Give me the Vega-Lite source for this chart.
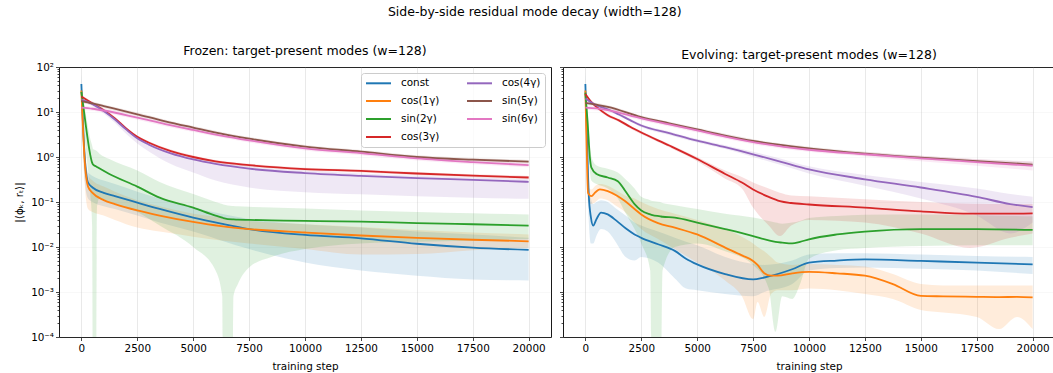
{
  "$schema": "https://vega.github.io/schema/vega-lite/v6.json",
  "padding": {"left": 14, "top": 5, "right": 0, "bottom": 0},
  "title": {"text": "Side-by-side residual mode decay (width=128)", "anchor": "middle", "offset": 26},
  "config": {
    "font": "DejaVu Sans",
    "view": {"stroke": "#1a1a1a", "strokeWidth": 1},
    "axis": {
      "domain": false,
      "labelFont": "DejaVu Sans", "labelFontSize": 10.4, "labelColor": "#000000",
      "titleFont": "DejaVu Sans", "titleFontSize": 10.4, "titleFontWeight": "normal", "titleColor": "#000000",
      "tickColor": "#1a1a1a", "tickWidth": 0.8,
      "gridColor": "#b0b0b0", "gridOpacity": 0.35, "gridWidth": 0.8,
      "labelPadding": 2
    },
    "title": {"font": "DejaVu Sans", "fontSize": 12.5, "fontWeight": "normal", "color": "#000000"}
  },
  "datasets": {
    "curves": [
      {"p":"Frozen","m":"const","s":0,"v":42,"lo":20,"hi":70},
      {"p":"Frozen","m":"const","s":150,"v":1.0,"lo":0.3,"hi":2.0},
      {"p":"Frozen","m":"const","s":300,"v":0.27,"lo":0.12,"hi":0.45},
      {"p":"Frozen","m":"const","s":500,"v":0.21,"lo":0.1,"hi":0.38},
      {"p":"Frozen","m":"const","s":1000,"v":0.16,"lo":0.08,"hi":0.3},
      {"p":"Frozen","m":"const","s":1500,"v":0.135,"lo":0.07,"hi":0.25},
      {"p":"Frozen","m":"const","s":2500,"v":0.097,"lo":0.05,"hi":0.17},
      {"p":"Frozen","m":"const","s":3500,"v":0.07,"lo":0.035,"hi":0.12},
      {"p":"Frozen","m":"const","s":5000,"v":0.045,"lo":0.022,"hi":0.075},
      {"p":"Frozen","m":"const","s":6250,"v":0.033,"lo":0.014,"hi":0.055},
      {"p":"Frozen","m":"const","s":7500,"v":0.025,"lo":0.009,"hi":0.042},
      {"p":"Frozen","m":"const","s":10000,"v":0.0185,"lo":0.0045,"hi":0.032},
      {"p":"Frozen","m":"const","s":12500,"v":0.0156,"lo":0.003,"hi":0.027},
      {"p":"Frozen","m":"const","s":15000,"v":0.0118,"lo":0.0023,"hi":0.022},
      {"p":"Frozen","m":"const","s":17500,"v":0.0097,"lo":0.0019,"hi":0.019},
      {"p":"Frozen","m":"const","s":20000,"v":0.0086,"lo":0.0018,"hi":0.016},

      {"p":"Frozen","m":"cos(1γ)","s":0,"v":30,"lo":15,"hi":45},
      {"p":"Frozen","m":"cos(1γ)","s":150,"v":0.8,"lo":0.25,"hi":2.0},
      {"p":"Frozen","m":"cos(1γ)","s":300,"v":0.22,"lo":0.07,"hi":0.4},
      {"p":"Frozen","m":"cos(1γ)","s":500,"v":0.16,"lo":0.06,"hi":0.3},
      {"p":"Frozen","m":"cos(1γ)","s":1000,"v":0.11,"lo":0.05,"hi":0.22},
      {"p":"Frozen","m":"cos(1γ)","s":1500,"v":0.09,"lo":0.04,"hi":0.17},
      {"p":"Frozen","m":"cos(1γ)","s":2500,"v":0.065,"lo":0.027,"hi":0.11},
      {"p":"Frozen","m":"cos(1γ)","s":3500,"v":0.05,"lo":0.022,"hi":0.08},
      {"p":"Frozen","m":"cos(1γ)","s":5000,"v":0.036,"lo":0.017,"hi":0.055},
      {"p":"Frozen","m":"cos(1γ)","s":6250,"v":0.029,"lo":0.014,"hi":0.045},
      {"p":"Frozen","m":"cos(1γ)","s":7500,"v":0.025,"lo":0.012,"hi":0.038},
      {"p":"Frozen","m":"cos(1γ)","s":10000,"v":0.021,"lo":0.009,"hi":0.032},
      {"p":"Frozen","m":"cos(1γ)","s":12500,"v":0.018,"lo":0.0068,"hi":0.028},
      {"p":"Frozen","m":"cos(1γ)","s":15000,"v":0.016,"lo":0.007,"hi":0.024},
      {"p":"Frozen","m":"cos(1γ)","s":17500,"v":0.0145,"lo":0.0085,"hi":0.021},
      {"p":"Frozen","m":"cos(1γ)","s":20000,"v":0.0134,"lo":0.0095,"hi":0.019},

      {"p":"Frozen","m":"sin(2γ)","s":0,"v":28,"lo":15,"hi":40},
      {"p":"Frozen","m":"sin(2γ)","s":100,"v":12,"lo":5,"hi":20},
      {"p":"Frozen","m":"sin(2γ)","s":200,"v":5,"lo":1.5,"hi":9},
      {"p":"Frozen","m":"sin(2γ)","s":300,"v":2.2,"lo":0.5,"hi":4.5},
      {"p":"Frozen","m":"sin(2γ)","s":400,"v":1.1,"lo":0.15,"hi":2.5},
      {"p":"Frozen","m":"sin(2γ)","s":480,"v":0.75,"lo":0.03,"hi":1.8},
      {"p":"Frozen","m":"sin(2γ)","s":520,"v":0.68,"lo":0.000001,"hi":1.5},
      {"p":"Frozen","m":"sin(2γ)","s":650,"v":0.62,"lo":0.000001,"hi":1.4},
      {"p":"Frozen","m":"sin(2γ)","s":700,"v":0.6,"lo":0.08,"hi":1.35},
      {"p":"Frozen","m":"sin(2γ)","s":800,"v":0.56,"lo":0.12,"hi":1.2},
      {"p":"Frozen","m":"sin(2γ)","s":1250,"v":0.42,"lo":0.1,"hi":0.9},
      {"p":"Frozen","m":"sin(2γ)","s":2500,"v":0.22,"lo":0.06,"hi":0.5},
      {"p":"Frozen","m":"sin(2γ)","s":3500,"v":0.125,"lo":0.03,"hi":0.28},
      {"p":"Frozen","m":"sin(2γ)","s":5000,"v":0.075,"lo":0.01,"hi":0.15},
      {"p":"Frozen","m":"sin(2γ)","s":6000,"v":0.05,"lo":0.003,"hi":0.1},
      {"p":"Frozen","m":"sin(2γ)","s":6300,"v":0.045,"lo":0.0008,"hi":0.09},
      {"p":"Frozen","m":"sin(2γ)","s":6350,"v":0.044,"lo":0.000001,"hi":0.088},
      {"p":"Frozen","m":"sin(2γ)","s":6750,"v":0.041,"lo":0.000001,"hi":0.082},
      {"p":"Frozen","m":"sin(2γ)","s":6800,"v":0.041,"lo":0.0008,"hi":0.082},
      {"p":"Frozen","m":"sin(2γ)","s":7000,"v":0.0405,"lo":0.0015,"hi":0.08},
      {"p":"Frozen","m":"sin(2γ)","s":7500,"v":0.04,"lo":0.0035,"hi":0.078},
      {"p":"Frozen","m":"sin(2γ)","s":8500,"v":0.039,"lo":0.006,"hi":0.075},
      {"p":"Frozen","m":"sin(2γ)","s":10000,"v":0.038,"lo":0.009,"hi":0.072},
      {"p":"Frozen","m":"sin(2γ)","s":12500,"v":0.0365,"lo":0.012,"hi":0.065},
      {"p":"Frozen","m":"sin(2γ)","s":15000,"v":0.034,"lo":0.013,"hi":0.06},
      {"p":"Frozen","m":"sin(2γ)","s":17500,"v":0.032,"lo":0.014,"hi":0.056},
      {"p":"Frozen","m":"sin(2γ)","s":20000,"v":0.03,"lo":0.015,"hi":0.053},

      {"p":"Frozen","m":"cos(3γ)","s":0,"v":22,"lo":20.2,"hi":23.8},
      {"p":"Frozen","m":"cos(3γ)","s":250,"v":18.5,"lo":17,"hi":20},
      {"p":"Frozen","m":"cos(3γ)","s":500,"v":15.5,"lo":14.3,"hi":16.7},
      {"p":"Frozen","m":"cos(3γ)","s":1000,"v":11,"lo":10.1,"hi":11.9},
      {"p":"Frozen","m":"cos(3γ)","s":1500,"v":7.2,"lo":6.6,"hi":7.8},
      {"p":"Frozen","m":"cos(3γ)","s":2000,"v":4.3,"lo":3.95,"hi":4.65},
      {"p":"Frozen","m":"cos(3γ)","s":2500,"v":2.8,"lo":2.58,"hi":3.02},
      {"p":"Frozen","m":"cos(3γ)","s":3000,"v":2.1,"lo":1.93,"hi":2.27},
      {"p":"Frozen","m":"cos(3γ)","s":4000,"v":1.35,"lo":1.24,"hi":1.46},
      {"p":"Frozen","m":"cos(3γ)","s":5000,"v":1.0,"lo":0.92,"hi":1.08},
      {"p":"Frozen","m":"cos(3γ)","s":6000,"v":0.8,"lo":0.74,"hi":0.86},
      {"p":"Frozen","m":"cos(3γ)","s":7500,"v":0.66,"lo":0.61,"hi":0.71},
      {"p":"Frozen","m":"cos(3γ)","s":10000,"v":0.54,"lo":0.5,"hi":0.58},
      {"p":"Frozen","m":"cos(3γ)","s":12500,"v":0.49,"lo":0.45,"hi":0.53},
      {"p":"Frozen","m":"cos(3γ)","s":15000,"v":0.43,"lo":0.395,"hi":0.465},
      {"p":"Frozen","m":"cos(3γ)","s":17500,"v":0.385,"lo":0.355,"hi":0.415},
      {"p":"Frozen","m":"cos(3γ)","s":20000,"v":0.35,"lo":0.32,"hi":0.38},

      {"p":"Frozen","m":"cos(4γ)","s":0,"v":19,"lo":16.5,"hi":21.3},
      {"p":"Frozen","m":"cos(4γ)","s":250,"v":17,"lo":15.2,"hi":19},
      {"p":"Frozen","m":"cos(4γ)","s":500,"v":15,"lo":13.5,"hi":16.8},
      {"p":"Frozen","m":"cos(4γ)","s":1000,"v":10.5,"lo":9.3,"hi":11.8},
      {"p":"Frozen","m":"cos(4γ)","s":1500,"v":6.8,"lo":5.8,"hi":7.6},
      {"p":"Frozen","m":"cos(4γ)","s":2000,"v":4.1,"lo":3.3,"hi":4.6},
      {"p":"Frozen","m":"cos(4γ)","s":2500,"v":2.6,"lo":2.0,"hi":2.9},
      {"p":"Frozen","m":"cos(4γ)","s":3000,"v":1.9,"lo":1.35,"hi":2.13},
      {"p":"Frozen","m":"cos(4γ)","s":4000,"v":1.2,"lo":0.7,"hi":1.34},
      {"p":"Frozen","m":"cos(4γ)","s":5000,"v":0.88,"lo":0.45,"hi":0.99},
      {"p":"Frozen","m":"cos(4γ)","s":6000,"v":0.7,"lo":0.3,"hi":0.79},
      {"p":"Frozen","m":"cos(4γ)","s":7500,"v":0.55,"lo":0.21,"hi":0.62},
      {"p":"Frozen","m":"cos(4γ)","s":10000,"v":0.44,"lo":0.165,"hi":0.5},
      {"p":"Frozen","m":"cos(4γ)","s":12500,"v":0.38,"lo":0.148,"hi":0.43},
      {"p":"Frozen","m":"cos(4γ)","s":15000,"v":0.34,"lo":0.135,"hi":0.385},
      {"p":"Frozen","m":"cos(4γ)","s":17500,"v":0.31,"lo":0.125,"hi":0.35},
      {"p":"Frozen","m":"cos(4γ)","s":20000,"v":0.28,"lo":0.118,"hi":0.32},

      {"p":"Frozen","m":"sin(5γ)","s":0,"v":17.5,"lo":16,"hi":19},
      {"p":"Frozen","m":"sin(5γ)","s":500,"v":15.5,"lo":14.1,"hi":16.9},
      {"p":"Frozen","m":"sin(5γ)","s":1000,"v":13.5,"lo":12.3,"hi":14.7},
      {"p":"Frozen","m":"sin(5γ)","s":2500,"v":8.9,"lo":8.1,"hi":9.7},
      {"p":"Frozen","m":"sin(5γ)","s":3750,"v":6.2,"lo":5.65,"hi":6.75},
      {"p":"Frozen","m":"sin(5γ)","s":5000,"v":4.5,"lo":4.1,"hi":4.9},
      {"p":"Frozen","m":"sin(5γ)","s":6250,"v":3.3,"lo":3.0,"hi":3.6},
      {"p":"Frozen","m":"sin(5γ)","s":7500,"v":2.55,"lo":2.32,"hi":2.78},
      {"p":"Frozen","m":"sin(5γ)","s":10000,"v":1.7,"lo":1.55,"hi":1.85},
      {"p":"Frozen","m":"sin(5γ)","s":12500,"v":1.31,"lo":1.19,"hi":1.43},
      {"p":"Frozen","m":"sin(5γ)","s":15000,"v":1.0,"lo":0.91,"hi":1.09},
      {"p":"Frozen","m":"sin(5γ)","s":17500,"v":0.87,"lo":0.79,"hi":0.95},
      {"p":"Frozen","m":"sin(5γ)","s":20000,"v":0.79,"lo":0.72,"hi":0.86},

      {"p":"Frozen","m":"sin(6γ)","s":0,"v":12.5,"lo":11.2,"hi":13.8},
      {"p":"Frozen","m":"sin(6γ)","s":500,"v":11.8,"lo":10.6,"hi":13},
      {"p":"Frozen","m":"sin(6γ)","s":1000,"v":10.8,"lo":9.7,"hi":11.9},
      {"p":"Frozen","m":"sin(6γ)","s":2500,"v":7.5,"lo":6.7,"hi":8.3},
      {"p":"Frozen","m":"sin(6γ)","s":3750,"v":5.4,"lo":4.85,"hi":5.95},
      {"p":"Frozen","m":"sin(6γ)","s":5000,"v":4.0,"lo":3.6,"hi":4.4},
      {"p":"Frozen","m":"sin(6γ)","s":6250,"v":3.0,"lo":2.7,"hi":3.3},
      {"p":"Frozen","m":"sin(6γ)","s":7500,"v":2.35,"lo":2.1,"hi":2.6},
      {"p":"Frozen","m":"sin(6γ)","s":10000,"v":1.55,"lo":1.4,"hi":1.7},
      {"p":"Frozen","m":"sin(6γ)","s":12500,"v":1.22,"lo":1.1,"hi":1.34},
      {"p":"Frozen","m":"sin(6γ)","s":15000,"v":0.93,"lo":0.84,"hi":1.02},
      {"p":"Frozen","m":"sin(6γ)","s":17500,"v":0.77,"lo":0.69,"hi":0.85},
      {"p":"Frozen","m":"sin(6γ)","s":20000,"v":0.66,"lo":0.59,"hi":0.73},

      {"p":"Evolving","m":"const","s":0,"v":42,"lo":20,"hi":75},
      {"p":"Evolving","m":"const","s":80,"v":2,"lo":0.8,"hi":5},
      {"p":"Evolving","m":"const","s":150,"v":0.15,"lo":0.04,"hi":0.4},
      {"p":"Evolving","m":"const","s":250,"v":0.045,"lo":0.012,"hi":0.12},
      {"p":"Evolving","m":"const","s":350,"v":0.03,"lo":0.012,"hi":0.09},
      {"p":"Evolving","m":"const","s":500,"v":0.042,"lo":0.018,"hi":0.1},
      {"p":"Evolving","m":"const","s":700,"v":0.058,"lo":0.025,"hi":0.11},
      {"p":"Evolving","m":"const","s":1000,"v":0.053,"lo":0.022,"hi":0.1},
      {"p":"Evolving","m":"const","s":1400,"v":0.038,"lo":0.012,"hi":0.07},
      {"p":"Evolving","m":"const","s":1800,"v":0.026,"lo":0.006,"hi":0.05},
      {"p":"Evolving","m":"const","s":2200,"v":0.019,"lo":0.005,"hi":0.035},
      {"p":"Evolving","m":"const","s":2500,"v":0.016,"lo":0.006,"hi":0.03},
      {"p":"Evolving","m":"const","s":3250,"v":0.0115,"lo":0.0045,"hi":0.022},
      {"p":"Evolving","m":"const","s":4000,"v":0.0082,"lo":0.002,"hi":0.016},
      {"p":"Evolving","m":"const","s":4500,"v":0.0055,"lo":0.0012,"hi":0.013},
      {"p":"Evolving","m":"const","s":5000,"v":0.0041,"lo":0.0011,"hi":0.011},
      {"p":"Evolving","m":"const","s":6250,"v":0.0025,"lo":0.0009,"hi":0.006},
      {"p":"Evolving","m":"const","s":7500,"v":0.0019,"lo":0.0008,"hi":0.0042},
      {"p":"Evolving","m":"const","s":8000,"v":0.0021,"lo":0.001,"hi":0.004},
      {"p":"Evolving","m":"const","s":9250,"v":0.0032,"lo":0.0015,"hi":0.005},
      {"p":"Evolving","m":"const","s":10000,"v":0.0045,"lo":0.003,"hi":0.0068},
      {"p":"Evolving","m":"const","s":11250,"v":0.005,"lo":0.0034,"hi":0.0073},
      {"p":"Evolving","m":"const","s":12500,"v":0.0053,"lo":0.0035,"hi":0.0073},
      {"p":"Evolving","m":"const","s":15000,"v":0.0049,"lo":0.0033,"hi":0.0068},
      {"p":"Evolving","m":"const","s":17500,"v":0.0045,"lo":0.003,"hi":0.0063},
      {"p":"Evolving","m":"const","s":20000,"v":0.0041,"lo":0.0025,"hi":0.006},

      {"p":"Evolving","m":"cos(1γ)","s":0,"v":30,"lo":15,"hi":45},
      {"p":"Evolving","m":"cos(1γ)","s":60,"v":1.5,"lo":0.5,"hi":3},
      {"p":"Evolving","m":"cos(1γ)","s":120,"v":0.16,"lo":0.1,"hi":0.22},
      {"p":"Evolving","m":"cos(1γ)","s":270,"v":0.135,"lo":0.09,"hi":0.19},
      {"p":"Evolving","m":"cos(1γ)","s":450,"v":0.165,"lo":0.1,"hi":0.23},
      {"p":"Evolving","m":"cos(1γ)","s":650,"v":0.19,"lo":0.12,"hi":0.25},
      {"p":"Evolving","m":"cos(1γ)","s":1000,"v":0.175,"lo":0.11,"hi":0.23},
      {"p":"Evolving","m":"cos(1γ)","s":1400,"v":0.14,"lo":0.08,"hi":0.18},
      {"p":"Evolving","m":"cos(1γ)","s":1770,"v":0.105,"lo":0.06,"hi":0.14},
      {"p":"Evolving","m":"cos(1γ)","s":2200,"v":0.07,"lo":0.035,"hi":0.12},
      {"p":"Evolving","m":"cos(1γ)","s":2500,"v":0.053,"lo":0.025,"hi":0.1},
      {"p":"Evolving","m":"cos(1γ)","s":3250,"v":0.034,"lo":0.015,"hi":0.07},
      {"p":"Evolving","m":"cos(1γ)","s":4000,"v":0.027,"lo":0.009,"hi":0.055},
      {"p":"Evolving","m":"cos(1γ)","s":5000,"v":0.019,"lo":0.0045,"hi":0.04},
      {"p":"Evolving","m":"cos(1γ)","s":6250,"v":0.0097,"lo":0.0018,"hi":0.025},
      {"p":"Evolving","m":"cos(1γ)","s":7000,"v":0.0065,"lo":0.0008,"hi":0.017},
      {"p":"Evolving","m":"cos(1γ)","s":7500,"v":0.0049,"lo":0.00025,"hi":0.012},
      {"p":"Evolving","m":"cos(1γ)","s":7700,"v":0.004,"lo":0.0006,"hi":0.01},
      {"p":"Evolving","m":"cos(1γ)","s":8000,"v":0.0026,"lo":0.00028,"hi":0.008},
      {"p":"Evolving","m":"cos(1γ)","s":8300,"v":0.0023,"lo":0.0009,"hi":0.006},
      {"p":"Evolving","m":"cos(1γ)","s":8600,"v":0.0023,"lo":0.0011,"hi":0.0045},
      {"p":"Evolving","m":"cos(1γ)","s":9250,"v":0.0026,"lo":0.0011,"hi":0.004},
      {"p":"Evolving","m":"cos(1γ)","s":10000,"v":0.0028,"lo":0.0012,"hi":0.0042},
      {"p":"Evolving","m":"cos(1γ)","s":11250,"v":0.0026,"lo":0.0011,"hi":0.004},
      {"p":"Evolving","m":"cos(1γ)","s":12500,"v":0.0023,"lo":0.0009,"hi":0.0037},
      {"p":"Evolving","m":"cos(1γ)","s":13750,"v":0.0015,"lo":0.0007,"hi":0.0025},
      {"p":"Evolving","m":"cos(1γ)","s":15000,"v":0.00082,"lo":0.0004,"hi":0.0015},
      {"p":"Evolving","m":"cos(1γ)","s":16000,"v":0.0008,"lo":0.00035,"hi":0.0014},
      {"p":"Evolving","m":"cos(1γ)","s":17500,"v":0.00078,"lo":0.00028,"hi":0.0014},
      {"p":"Evolving","m":"cos(1γ)","s":18500,"v":0.00077,"lo":0.00015,"hi":0.0014},
      {"p":"Evolving","m":"cos(1γ)","s":19300,"v":0.00078,"lo":0.00028,"hi":0.0014},
      {"p":"Evolving","m":"cos(1γ)","s":20000,"v":0.00076,"lo":0.00015,"hi":0.0014},

      {"p":"Evolving","m":"sin(2γ)","s":0,"v":27,"lo":15,"hi":40},
      {"p":"Evolving","m":"sin(2γ)","s":100,"v":6,"lo":3,"hi":10},
      {"p":"Evolving","m":"sin(2γ)","s":200,"v":1.0,"lo":0.5,"hi":2},
      {"p":"Evolving","m":"sin(2γ)","s":270,"v":0.58,"lo":0.3,"hi":1.0},
      {"p":"Evolving","m":"sin(2γ)","s":500,"v":0.42,"lo":0.25,"hi":0.65},
      {"p":"Evolving","m":"sin(2γ)","s":1000,"v":0.35,"lo":0.2,"hi":0.55},
      {"p":"Evolving","m":"sin(2γ)","s":1450,"v":0.29,"lo":0.12,"hi":0.45},
      {"p":"Evolving","m":"sin(2γ)","s":1770,"v":0.18,"lo":0.06,"hi":0.33},
      {"p":"Evolving","m":"sin(2γ)","s":2200,"v":0.09,"lo":0.025,"hi":0.2},
      {"p":"Evolving","m":"sin(2γ)","s":2500,"v":0.065,"lo":0.012,"hi":0.13},
      {"p":"Evolving","m":"sin(2γ)","s":2900,"v":0.053,"lo":0.003,"hi":0.11},
      {"p":"Evolving","m":"sin(2γ)","s":3000,"v":0.051,"lo":0.000001,"hi":0.105},
      {"p":"Evolving","m":"sin(2γ)","s":3350,"v":0.048,"lo":0.000001,"hi":0.1},
      {"p":"Evolving","m":"sin(2γ)","s":3450,"v":0.047,"lo":0.003,"hi":0.095},
      {"p":"Evolving","m":"sin(2γ)","s":4000,"v":0.045,"lo":0.01,"hi":0.085},
      {"p":"Evolving","m":"sin(2γ)","s":5000,"v":0.035,"lo":0.012,"hi":0.07},
      {"p":"Evolving","m":"sin(2γ)","s":6250,"v":0.025,"lo":0.008,"hi":0.055},
      {"p":"Evolving","m":"sin(2γ)","s":7500,"v":0.0175,"lo":0.004,"hi":0.045},
      {"p":"Evolving","m":"sin(2γ)","s":8200,"v":0.014,"lo":0.0012,"hi":0.038},
      {"p":"Evolving","m":"sin(2γ)","s":8500,"v":0.013,"lo":0.00013,"hi":0.035},
      {"p":"Evolving","m":"sin(2γ)","s":8800,"v":0.0125,"lo":0.0008,"hi":0.033},
      {"p":"Evolving","m":"sin(2γ)","s":9250,"v":0.012,"lo":0.0007,"hi":0.035},
      {"p":"Evolving","m":"sin(2γ)","s":9600,"v":0.013,"lo":0.0015,"hi":0.038},
      {"p":"Evolving","m":"sin(2γ)","s":10000,"v":0.0148,"lo":0.0055,"hi":0.044},
      {"p":"Evolving","m":"sin(2γ)","s":11250,"v":0.019,"lo":0.0085,"hi":0.049},
      {"p":"Evolving","m":"sin(2γ)","s":12500,"v":0.022,"lo":0.0095,"hi":0.052},
      {"p":"Evolving","m":"sin(2γ)","s":15000,"v":0.025,"lo":0.0105,"hi":0.053},
      {"p":"Evolving","m":"sin(2γ)","s":17500,"v":0.025,"lo":0.011,"hi":0.051},
      {"p":"Evolving","m":"sin(2γ)","s":20000,"v":0.024,"lo":0.011,"hi":0.048},

      {"p":"Evolving","m":"cos(3γ)","s":0,"v":25,"lo":22,"hi":28},
      {"p":"Evolving","m":"cos(3γ)","s":250,"v":17,"lo":15.6,"hi":18.4},
      {"p":"Evolving","m":"cos(3γ)","s":500,"v":13,"lo":12,"hi":14},
      {"p":"Evolving","m":"cos(3γ)","s":1000,"v":8.5,"lo":7.8,"hi":9.2},
      {"p":"Evolving","m":"cos(3γ)","s":1500,"v":6.5,"lo":6,"hi":7},
      {"p":"Evolving","m":"cos(3γ)","s":2000,"v":4.7,"lo":4.3,"hi":5.1},
      {"p":"Evolving","m":"cos(3γ)","s":2500,"v":3.5,"lo":3.2,"hi":3.8},
      {"p":"Evolving","m":"cos(3γ)","s":3750,"v":1.8,"lo":1.65,"hi":1.95},
      {"p":"Evolving","m":"cos(3γ)","s":5000,"v":0.9,"lo":0.8,"hi":1.0},
      {"p":"Evolving","m":"cos(3γ)","s":6250,"v":0.42,"lo":0.33,"hi":0.5},
      {"p":"Evolving","m":"cos(3γ)","s":7000,"v":0.27,"lo":0.2,"hi":0.36},
      {"p":"Evolving","m":"cos(3γ)","s":7500,"v":0.19,"lo":0.075,"hi":0.27},
      {"p":"Evolving","m":"cos(3γ)","s":8200,"v":0.13,"lo":0.03,"hi":0.2},
      {"p":"Evolving","m":"cos(3γ)","s":8700,"v":0.105,"lo":0.0175,"hi":0.16},
      {"p":"Evolving","m":"cos(3γ)","s":9200,"v":0.095,"lo":0.03,"hi":0.14},
      {"p":"Evolving","m":"cos(3γ)","s":10000,"v":0.088,"lo":0.04,"hi":0.135},
      {"p":"Evolving","m":"cos(3γ)","s":12500,"v":0.075,"lo":0.035,"hi":0.115},
      {"p":"Evolving","m":"cos(3γ)","s":15000,"v":0.062,"lo":0.02,"hi":0.1},
      {"p":"Evolving","m":"cos(3γ)","s":17200,"v":0.055,"lo":0.0095,"hi":0.092},
      {"p":"Evolving","m":"cos(3γ)","s":19000,"v":0.055,"lo":0.016,"hi":0.09},
      {"p":"Evolving","m":"cos(3γ)","s":20000,"v":0.056,"lo":0.02,"hi":0.09},

      {"p":"Evolving","m":"cos(4γ)","s":0,"v":20,"lo":18,"hi":22},
      {"p":"Evolving","m":"cos(4γ)","s":500,"v":14,"lo":13,"hi":15},
      {"p":"Evolving","m":"cos(4γ)","s":1000,"v":11.5,"lo":10.7,"hi":12.3},
      {"p":"Evolving","m":"cos(4γ)","s":1500,"v":8.8,"lo":8.2,"hi":9.4},
      {"p":"Evolving","m":"cos(4γ)","s":2000,"v":6.6,"lo":6.1,"hi":7.1},
      {"p":"Evolving","m":"cos(4γ)","s":2500,"v":5.0,"lo":4.6,"hi":5.4},
      {"p":"Evolving","m":"cos(4γ)","s":3750,"v":3.4,"lo":3.1,"hi":3.7},
      {"p":"Evolving","m":"cos(4γ)","s":5000,"v":2.3,"lo":2.1,"hi":2.5},
      {"p":"Evolving","m":"cos(4γ)","s":6250,"v":1.65,"lo":1.5,"hi":1.82},
      {"p":"Evolving","m":"cos(4γ)","s":7500,"v":1.15,"lo":1.0,"hi":1.3},
      {"p":"Evolving","m":"cos(4γ)","s":8750,"v":0.78,"lo":0.66,"hi":0.92},
      {"p":"Evolving","m":"cos(4γ)","s":10000,"v":0.53,"lo":0.43,"hi":0.62},
      {"p":"Evolving","m":"cos(4γ)","s":12500,"v":0.32,"lo":0.23,"hi":0.4},
      {"p":"Evolving","m":"cos(4γ)","s":15000,"v":0.21,"lo":0.12,"hi":0.28},
      {"p":"Evolving","m":"cos(4γ)","s":17500,"v":0.13,"lo":0.05,"hi":0.2},
      {"p":"Evolving","m":"cos(4γ)","s":19000,"v":0.09,"lo":0.02,"hi":0.15},
      {"p":"Evolving","m":"cos(4γ)","s":20000,"v":0.077,"lo":0.035,"hi":0.13},

      {"p":"Evolving","m":"sin(5γ)","s":0,"v":16,"lo":14.6,"hi":17.4},
      {"p":"Evolving","m":"sin(5γ)","s":500,"v":14.5,"lo":13.2,"hi":15.8},
      {"p":"Evolving","m":"sin(5γ)","s":1000,"v":13,"lo":11.8,"hi":14.2},
      {"p":"Evolving","m":"sin(5γ)","s":2500,"v":7.7,"lo":7,"hi":8.4},
      {"p":"Evolving","m":"sin(5γ)","s":3750,"v":5.6,"lo":5.1,"hi":6.1},
      {"p":"Evolving","m":"sin(5γ)","s":5000,"v":4.1,"lo":3.73,"hi":4.47},
      {"p":"Evolving","m":"sin(5γ)","s":6250,"v":3.0,"lo":2.73,"hi":3.27},
      {"p":"Evolving","m":"sin(5γ)","s":7500,"v":2.27,"lo":2.07,"hi":2.47},
      {"p":"Evolving","m":"sin(5γ)","s":10000,"v":1.56,"lo":1.42,"hi":1.7},
      {"p":"Evolving","m":"sin(5γ)","s":12500,"v":1.19,"lo":1.08,"hi":1.3},
      {"p":"Evolving","m":"sin(5γ)","s":15000,"v":0.97,"lo":0.88,"hi":1.06},
      {"p":"Evolving","m":"sin(5γ)","s":17500,"v":0.81,"lo":0.73,"hi":0.89},
      {"p":"Evolving","m":"sin(5γ)","s":20000,"v":0.68,"lo":0.6,"hi":0.78},

      {"p":"Evolving","m":"sin(6γ)","s":0,"v":12.5,"lo":11.2,"hi":13.8},
      {"p":"Evolving","m":"sin(6γ)","s":500,"v":12,"lo":10.8,"hi":13.2},
      {"p":"Evolving","m":"sin(6γ)","s":1000,"v":11,"lo":9.9,"hi":12.1},
      {"p":"Evolving","m":"sin(6γ)","s":2500,"v":7.2,"lo":6.5,"hi":7.9},
      {"p":"Evolving","m":"sin(6γ)","s":3750,"v":5.3,"lo":4.75,"hi":5.85},
      {"p":"Evolving","m":"sin(6γ)","s":5000,"v":3.9,"lo":3.5,"hi":4.3},
      {"p":"Evolving","m":"sin(6γ)","s":6250,"v":2.85,"lo":2.55,"hi":3.15},
      {"p":"Evolving","m":"sin(6γ)","s":7500,"v":2.15,"lo":1.93,"hi":2.37},
      {"p":"Evolving","m":"sin(6γ)","s":10000,"v":1.45,"lo":1.3,"hi":1.6},
      {"p":"Evolving","m":"sin(6γ)","s":12500,"v":1.15,"lo":1.02,"hi":1.28},
      {"p":"Evolving","m":"sin(6γ)","s":15000,"v":0.93,"lo":0.8,"hi":1.06},
      {"p":"Evolving","m":"sin(6γ)","s":17500,"v":0.77,"lo":0.64,"hi":0.9},
      {"p":"Evolving","m":"sin(6γ)","s":20000,"v":0.64,"lo":0.5,"hi":0.8}
    ]
  },
  "spacing": 6,
  "resolve": {"legend": {"color": "independent"}},
  "hconcat": [
    {
      "title": {"text": "Frozen: target-present modes (w=128)", "offset": 5},
      "width": 492,
      "height": 270,
      "data": {"name": "curves"},
      "transform": [{"filter": "datum.p === 'Frozen'"}],
      "encoding": {
        "x": {
          "field": "s", "type": "quantitative",
          "scale": {"domain": [-1000, 21000], "nice": false, "zero": false},
          "axis": {"title": "training step", "format": "d", "values": [0, 2500, 5000, 7500, 10000, 12500, 15000, 17500, 20000], "tickSize": 3.5, "labelPadding": 3, "titlePadding": 8, "labelFlush": false, "grid": true}
        },
        "color": {
          "field": "m", "type": "nominal",
          "scale": {
            "domain": ["const", "cos(1γ)", "sin(2γ)", "cos(3γ)", "cos(4γ)", "sin(5γ)", "sin(6γ)"],
            "range": ["#1f77b4", "#ff7f0e", "#2ca02c", "#d62728", "#9467bd", "#8c564b", "#e377c2"]
          },
          "legend": {
            "title": null, "orient": "top-right", "offset": 6, "columns": 2,
            "symbolType": "M-1,0H4", "symbolStrokeWidth": 2, "symbolSize": 100, "symbolOpacity": 1,
            "labelFont": "DejaVu Sans", "labelFontSize": 10.4, "labelColor": "#000000", "labelOffset": 24,
            "rowPadding": 6, "columnPadding": 23, "padding": 4,
            "fillColor": "rgba(255,255,255,0.8)", "strokeColor": "#cccccc", "cornerRadius": 3
          }
        }
      },
      "layer": [
        {
          "mark": {"type": "area", "opacity": 0.15, "clip": true, "interpolate": "monotone"},
          "encoding": {
            "y": {
              "field": "lo", "type": "quantitative",
              "scale": {"type": "log", "domain": [0.0001, 100], "nice": false},
              "axis": {
                "title": "|⟨ϕₖ, rₜ⟩|", "titlePadding": 6,
                "values": [0.0001,0.0002,0.0003,0.0004,0.0005,0.0006,0.0007,0.0008,0.0009,0.001,0.002,0.003,0.004,0.005,0.006,0.007,0.008,0.009,0.01,0.02,0.03,0.04,0.05,0.06,0.07,0.08,0.09,0.1,0.2,0.3,0.4,0.5,0.6,0.7,0.8,0.9,1,2,3,4,5,6,7,8,9,10,20,30,40,50,60,70,80,90,100],
                "labelExpr": "abs(log(datum.value)/LN10 - round(log(datum.value)/LN10)) < 0.001 ? ['10⁻⁴','10⁻³','10⁻²','10⁻¹','10⁰','10¹','10²'][round(log(datum.value)/LN10) + 4] : ''",
                "tickSize": {"condition": {"test": "abs(log(datum.value)/LN10 - round(log(datum.value)/LN10)) < 0.001", "value": 3.5}, "value": 2},
                "gridOpacity": {"condition": {"test": "abs(log(datum.value)/LN10 - round(log(datum.value)/LN10)) < 0.001", "value": 0.35}, "value": 0}
              }
            },
            "y2": {"field": "hi"}
          }
        },
        {
          "mark": {"type": "line", "strokeWidth": 1.8, "clip": true, "interpolate": "monotone"},
          "encoding": {
            "y": {
              "field": "v", "type": "quantitative",
              "scale": {"type": "log", "domain": [0.0001, 100], "nice": false},
              "axis": {
                "title": "|⟨ϕₖ, rₜ⟩|", "titlePadding": 6,
                "values": [0.0001,0.0002,0.0003,0.0004,0.0005,0.0006,0.0007,0.0008,0.0009,0.001,0.002,0.003,0.004,0.005,0.006,0.007,0.008,0.009,0.01,0.02,0.03,0.04,0.05,0.06,0.07,0.08,0.09,0.1,0.2,0.3,0.4,0.5,0.6,0.7,0.8,0.9,1,2,3,4,5,6,7,8,9,10,20,30,40,50,60,70,80,90,100],
                "labelExpr": "abs(log(datum.value)/LN10 - round(log(datum.value)/LN10)) < 0.001 ? ['10⁻⁴','10⁻³','10⁻²','10⁻¹','10⁰','10¹','10²'][round(log(datum.value)/LN10) + 4] : ''",
                "tickSize": {"condition": {"test": "abs(log(datum.value)/LN10 - round(log(datum.value)/LN10)) < 0.001", "value": 3.5}, "value": 2},
                "gridOpacity": {"condition": {"test": "abs(log(datum.value)/LN10 - round(log(datum.value)/LN10)) < 0.001", "value": 0.35}, "value": 0}
              }
            }
          }
        }
      ]
    },
    {
      "title": {"text": "Evolving: target-present modes (w=128)", "offset": 5},
      "width": 492,
      "height": 270,
      "data": {"name": "curves"},
      "transform": [{"filter": "datum.p === 'Evolving'"}],
      "encoding": {
        "x": {
          "field": "s", "type": "quantitative",
          "scale": {"domain": [-1000, 21000], "nice": false, "zero": false},
          "axis": {"title": "training step", "format": "d", "values": [0, 2500, 5000, 7500, 10000, 12500, 15000, 17500, 20000], "tickSize": 3.5, "labelPadding": 3, "titlePadding": 8, "labelFlush": false, "grid": true}
        },
        "color": {
          "field": "m", "type": "nominal",
          "scale": {
            "domain": ["const", "cos(1γ)", "sin(2γ)", "cos(3γ)", "cos(4γ)", "sin(5γ)", "sin(6γ)"],
            "range": ["#1f77b4", "#ff7f0e", "#2ca02c", "#d62728", "#9467bd", "#8c564b", "#e377c2"]
          },
          "legend": null
        }
      },
      "layer": [
        {
          "mark": {"type": "area", "opacity": 0.15, "clip": true, "interpolate": "monotone"},
          "encoding": {
            "y": {
              "field": "lo", "type": "quantitative",
              "scale": {"type": "log", "domain": [0.0001, 100], "nice": false},
              "axis": {
                "title": null, "labels": false,
                "values": [0.0001,0.0002,0.0003,0.0004,0.0005,0.0006,0.0007,0.0008,0.0009,0.001,0.002,0.003,0.004,0.005,0.006,0.007,0.008,0.009,0.01,0.02,0.03,0.04,0.05,0.06,0.07,0.08,0.09,0.1,0.2,0.3,0.4,0.5,0.6,0.7,0.8,0.9,1,2,3,4,5,6,7,8,9,10,20,30,40,50,60,70,80,90,100],
                "tickSize": {"condition": {"test": "abs(log(datum.value)/LN10 - round(log(datum.value)/LN10)) < 0.001", "value": 3.5}, "value": 2},
                "gridOpacity": {"condition": {"test": "abs(log(datum.value)/LN10 - round(log(datum.value)/LN10)) < 0.001", "value": 0.35}, "value": 0}
              }
            },
            "y2": {"field": "hi"}
          }
        },
        {
          "mark": {"type": "line", "strokeWidth": 1.8, "clip": true, "interpolate": "monotone"},
          "encoding": {
            "y": {
              "field": "v", "type": "quantitative",
              "scale": {"type": "log", "domain": [0.0001, 100], "nice": false},
              "axis": {
                "title": null, "labels": false,
                "values": [0.0001,0.0002,0.0003,0.0004,0.0005,0.0006,0.0007,0.0008,0.0009,0.001,0.002,0.003,0.004,0.005,0.006,0.007,0.008,0.009,0.01,0.02,0.03,0.04,0.05,0.06,0.07,0.08,0.09,0.1,0.2,0.3,0.4,0.5,0.6,0.7,0.8,0.9,1,2,3,4,5,6,7,8,9,10,20,30,40,50,60,70,80,90,100],
                "tickSize": {"condition": {"test": "abs(log(datum.value)/LN10 - round(log(datum.value)/LN10)) < 0.001", "value": 3.5}, "value": 2},
                "gridOpacity": {"condition": {"test": "abs(log(datum.value)/LN10 - round(log(datum.value)/LN10)) < 0.001", "value": 0.35}, "value": 0}
              }
            }
          }
        }
      ]
    }
  ]
}
